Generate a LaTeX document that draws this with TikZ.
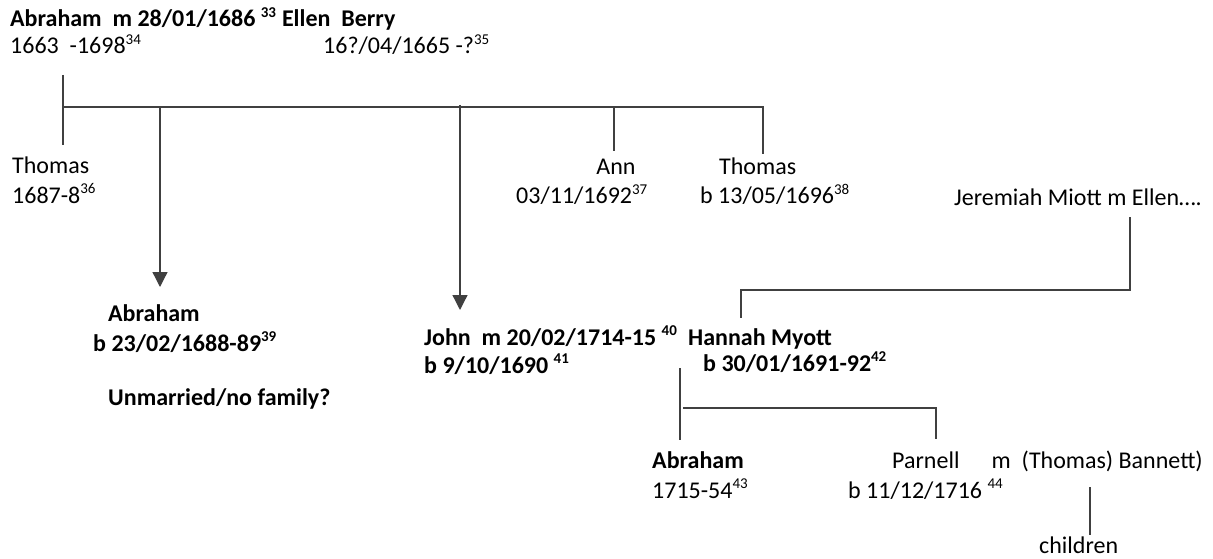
\documentclass[tikz,border=0pt]{standalone}
\usepackage{fontspec}
\setmainfont{Carlito}
\usetikzlibrary{arrows.meta}
\newcommand{\sx}[1]{\textsuperscript{\fontsize{15}{18}\selectfont #1}}
\begin{document}
\begin{tikzpicture}[x=1pt,y=-1pt,
  txt/.style={inner sep=0pt,anchor=base west,font=\fontsize{24}{29}\selectfont},
  txb/.style={txt,font=\fontsize{24}{29}\selectfont\bfseries},
  ln/.style={line width=1.3pt,draw=black!75},
  arr/.style={ln,-{Triangle[width=15pt,length=15pt]}}]
\useasboundingbox (0,0) rectangle (1213,559);
% texts
\node[txb] (l1) at (10,27) {Abraham\ \ m 28/01/1686 \sx{33} Ellen\ \ Berry};
\node[txt] (l2a) at (10,54) {1663\ \ -1698\sx{34}};
\node[txt] (l2b) at (323,54) {16?/04/1665 -?\sx{35}};
\node[txt] (th1) at (12,174) {Thomas};
\node[txt] (th1d) at (12,203) {1687-8\sx{36}};
\node[txt,anchor=base] (ann) at (616,175) {Ann};
\node[txt,anchor=base east] (annd) at (648,204) {03/11/1692\sx{37}};
\node[txt] (th2) at (719,175) {Thomas};
\node[txt] (th2d) at (700,204) {b 13/05/1696\sx{38}};
\node[txt,anchor=base east] (jer) at (1202,205) {Jeremiah Miott m Ellen….};
\node[txb] (ab2) at (108,321) {Abraham};
\node[txb] (ab2d) at (93,351) {b 23/02/1688-89\sx{39}};
\node[txb] (unm) at (108,405) {Unmarried/no family?};
\node[txb] (john) at (424,345) {John\ \ m 20/02/1714-15 \sx{40}\ \ Hannah Myott};
\node[txb] (johnd) at (424,373) {b 9/10/1690 \sx{41}};
\node[txb] (hand) at (703,371) {b 30/01/1691-92\sx{42}};
\node[txb] (ab3) at (652,468) {Abraham};
\node[txt] (ab3d) at (652,498) {1715-54\sx{43}};
\node[txt] (par) at (892,468) {Parnell};
\node[txt,anchor=base east] (bann) at (1203,468) {m\ \ (Thomas) Bannett)};
\node[txt] (pard) at (848,498) {b 11/12/1716 \sx{44}};
\node[txt] (chil) at (1039,553) {children};
% junction coordinates
\coordinate (c0) at (63,75);
\coordinate (c1) at (63,107);
\coordinate (c1e) at (763,107);
\coordinate (th1t) at (63,145);
\coordinate (a1s) at (160,107);
\coordinate (a1e) at (160,287);
\coordinate (a2s) at (460,105);
\coordinate (a2e) at (460,310);
\coordinate (anns) at (614,107);
\coordinate (annt) at (614,151);
\coordinate (th2t) at (763,154);
\coordinate (j1) at (1130,217);
\coordinate (j2) at (1130,290);
\coordinate (j3) at (741,290);
\coordinate (j4) at (741,318);
\coordinate (k1) at (680,368);
\coordinate (k2) at (680,440);
\coordinate (k3) at (683,408);
\coordinate (k4) at (936,408);
\coordinate (k5) at (936,439);
\coordinate (m1) at (1090,487);
\coordinate (m2) at (1090,535);
% connectors
\draw[ln] (c0) -- (th1t);
\draw[ln] (c1) -- (c1e) -- (th2t);
\draw[arr] (a1s) -- (a1e);
\draw[arr] (a2s) -- (a2e);
\draw[ln] (anns) -- (annt);
\draw[ln] (j1) -- (j2) -- (j3) -- (j4);
\draw[ln] (k1) -- (k2);
\draw[ln] (k3) -- (k4) -- (k5);
\draw[ln] (m1) -- (m2);
\end{tikzpicture}
\end{document}
